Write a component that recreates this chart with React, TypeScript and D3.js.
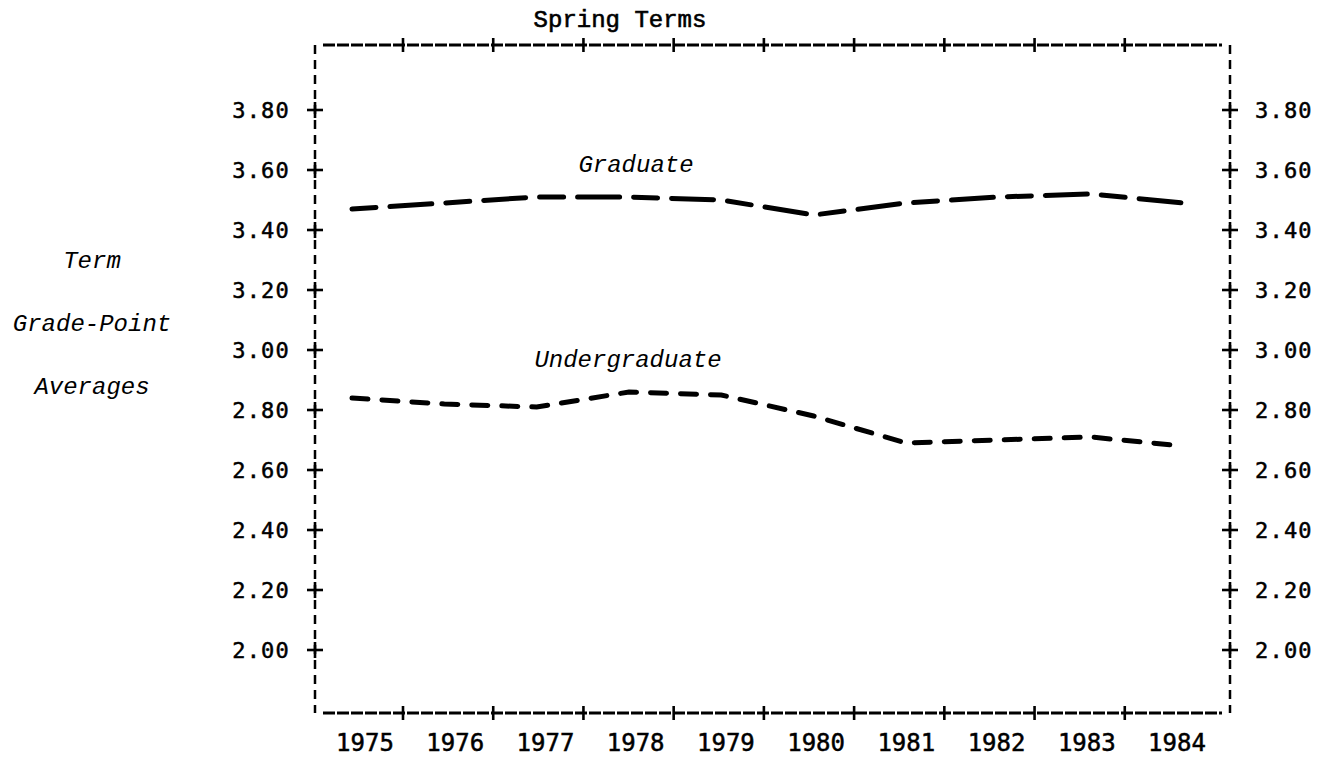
import React from 'react';
import * as d3 from 'd3';

const years = [1975, 1976, 1977, 1978, 1979, 1980, 1981, 1982, 1983, 1984];
const graduate = [3.47, 3.49, 3.51, 3.51, 3.5, 3.45, 3.49, 3.51, 3.52, 3.49];
const undergraduate = [2.84, 2.82, 2.81, 2.86, 2.85, 2.78, 2.69, 2.7, 2.71, 2.68];
const yTicks = [2.0, 2.2, 2.4, 2.6, 2.8, 3.0, 3.2, 3.4, 3.6, 3.8];
const titleLines = ['Term', 'Grade-Point', 'Averages'];

const W = 1332;
const H = 757;
const frame = { left: 315, right: 1230, top: 45, bottom: 713 };

const mono = '"DejaVu Sans Mono", monospace';
const courier = '"Liberation Mono", "Courier New", monospace';

const App = () => {
	// scales
	const y = d3.scaleLinear().domain([2.0, 3.8]).range([650, 110]);
	const xData = d3.scaleLinear().domain([1975, 1984]).range([352, 1183]);
	const xLabel = d3.scalePoint<number>().domain(years).range([365, 1177]);
	const tickYears = years.slice(0, -1);

	const line = d3
		.line<number>()
		.x((_, i) => xData(years[i]))
		.y(d => y(d))
		.curve(d3.curveLinear);

	const plus = (cx: number, cy: number, key: string) => (
		<g key={key} stroke="#000" strokeWidth={2.6}>
			<line x1={cx - 8} x2={cx + 8} y1={cy} y2={cy} />
			<line x1={cx} x2={cx} y1={cy - 8} y2={cy + 8} />
		</g>
	);

	return (
		<div style={{ position: 'absolute', left: 0, top: 0 }}>
			<svg width={W} height={H} style={{ display: 'block', background: '#fff' }}>
				<text x={620} y={27} textAnchor="middle" fontFamily={courier} fontSize={24} fill="#000" stroke="#000" strokeWidth={0.6}>
					Spring Terms
				</text>

				{/* frame */}
				<g stroke="#000" fill="none">
					<line x1={frame.left + 8} x2={frame.right - 8} y1={frame.top} y2={frame.top} strokeWidth={3} strokeDasharray="12,2" />
					<line x1={frame.left + 8} x2={frame.right - 8} y1={frame.bottom} y2={frame.bottom} strokeWidth={3} strokeDasharray="12,2" />
					<line x1={frame.left} x2={frame.left} y1={frame.top} y2={frame.bottom} strokeWidth={2.5} strokeDasharray="9,6" />
					<line x1={frame.right} x2={frame.right} y1={frame.top} y2={frame.bottom} strokeWidth={2.5} strokeDasharray="9,6" />
				</g>

				{/* x ticks top and bottom */}
				{tickYears.map(yr => (
					<g key={'xt' + yr} stroke="#000" strokeWidth={2.6}>
						<line x1={(xLabel(yr) as number) + 38} x2={(xLabel(yr) as number) + 38} y1={frame.top - 7} y2={frame.top + 7} />
						<line x1={(xLabel(yr) as number) + 38} x2={(xLabel(yr) as number) + 38} y1={frame.bottom - 7} y2={frame.bottom + 7} />
					</g>
				))}

				{/* y ticks left and right */}
				{yTicks.map(t => plus(frame.left, y(t), 'l' + t))}
				{yTicks.map(t => plus(frame.right, y(t), 'r' + t))}

				{yTicks.map(t => (
					<g key={'yl' + t} fontFamily={mono} fontSize={22} fill="#000" stroke="#000" strokeWidth={0.5} letterSpacing={1.2}>
						<text x={290} y={y(t)} dy="0.36em" textAnchor="end">
							{t.toFixed(2)}
						</text>
						<text x={1255} y={y(t)} dy="0.36em" textAnchor="start">
							{t.toFixed(2)}
						</text>
					</g>
				))}

				{years.map(yr => (
					<text key={'yr' + yr} x={xLabel(yr)} y={751} textAnchor="middle" fontFamily={mono} fontSize={24} fill="#000" stroke="#000" strokeWidth={0.5}>
						{yr}
					</text>
				))}

				{/* axis title */}
				{titleLines.map((s, i) => (
					<text key={s} x={92} y={268 + i * 63} textAnchor="middle" fontFamily={courier} fontStyle="italic" fontSize={24} fill="#000">
						{s}
					</text>
				))}

				{/* series */}
				<path d={line(graduate) || ''} fill="none" stroke="#000" strokeWidth={5} strokeLinecap="round" strokeDasharray="24,14,42,14" />
				<path d={line(undergraduate) || ''} fill="none" stroke="#000" strokeWidth={5} strokeLinecap="round" strokeDasharray="16,14" />

				<text x={636} y={172} textAnchor="middle" fontFamily={courier} fontStyle="italic" fontSize={24} fill="#000">
					Graduate
				</text>
				<text x={628} y={367} textAnchor="middle" fontFamily={courier} fontStyle="italic" fontSize={24} fill="#000">
					Undergraduate
				</text>
			</svg>
		</div>
	);
};

export default App;
